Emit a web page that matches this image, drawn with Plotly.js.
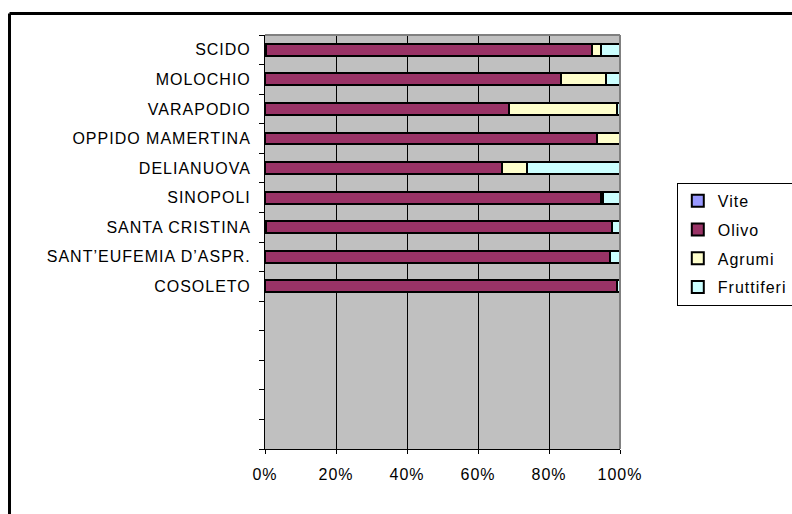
<!DOCTYPE html>
<html>
<head>
<meta charset="utf-8">
<script src="https://cdn.plot.ly/plotly-3.0.1.min.js"></script>
<style>
  html, body { margin: 0; padding: 0; background: #ffffff; }
  svg text { letter-spacing: 1px; }
</style>
</head>
<body>
<div id="chart" style="width:792px;height:514px;"></div>
<script>
// Categories, top to bottom
const categories = ['SCIDO', 'MOLOCHIO', 'VARAPODIO', 'OPPIDO MAMERTINA', 'DELIANUOVA',
                    'SINOPOLI', 'SANTA CRISTINA', 'SANT\u2019EUFEMIA D\u2019ASPR.', 'COSOLETO'];
const emptySlots = 5; // empty category rows below COSOLETO
// Series values (% share of each crop)
const vite       = [0.4, 0,    0,    0,    0,    0,    0.3,  0,    0];
const olivo      = [91.8, 83.3, 68.6, 93.5, 66.7, 94.6, 97.5, 97.3, 99.2];
const agrumi     = [2.4, 12.7, 30.6, 6.5,  7.0,  0.6,  0,    0,    0];
const fruttiferi = [5.4, 4.0,  0.8,  0,    26.3, 4.8,  2.2,  2.7,  0.8];
const seriesNames = ['Vite', 'Olivo', 'Agrumi', 'Fruttiferi'];
const xTickVals = [0, 20, 40, 60, 80, 100];
const xTickText = ['0%', '20%', '40%', '60%', '80%', '100%'];

const colors = ['#9999FF', '#993366', '#FFFFCC', '#CCFFFF'];
const nTot = categories.length + emptySlots;
const pos = categories.map((c, i) => nTot - 1 - i);
const seriesVals = [vite, olivo, agrumi, fruttiferi];

const font = 'Arial, "Liberation Sans", sans-serif';

const traces = seriesNames.map((name, k) => ({
  type: 'bar',
  orientation: 'h',
  name: name,
  legendgroup: name,
  x: seriesVals[k],
  y: pos,
  width: 0.4,
  marker: { color: colors[k], line: { color: '#000000', width: 2 } },
  hoverinfo: 'skip'
}));

const layout = {
  width: 792,
  height: 514,
  margin: { l: 265, r: 172, t: 35, b: 65, autoexpand: false },
  paper_bgcolor: '#ffffff',
  plot_bgcolor: '#C0C0C0',
  barmode: 'stack',
  barnorm: 'percent',
  font: { family: font, size: 16, color: '#000000' },
  showlegend: true,
  legend: {
    x: 1.16, y: 0.643, xanchor: 'left', yanchor: 'top',
    bgcolor: '#ffffff', bordercolor: '#000000', borderwidth: 1,
    traceorder: 'grouped', tracegroupgap: 5,
    font: { family: font, size: 16, color: '#000000' }
  },
  xaxis: {
    range: [0, 100],
    tickmode: 'array', tickvals: xTickVals, ticktext: xTickText,
    ticks: 'outside', ticklen: 4, tickcolor: '#000000',
    ticklabelstandoff: 7,
    showgrid: true, gridcolor: '#000000', gridwidth: 1,
    zeroline: false,
    showline: true, linecolor: '#000000', linewidth: 1,
    tickfont: { family: font, size: 16, color: '#000000' },
    fixedrange: true
  },
  yaxis: {
    range: [-0.5, nTot - 0.5],
    tickmode: 'array', tickvals: pos, ticktext: categories,
    ticks: '', showgrid: false, zeroline: false,
    showline: true, linecolor: '#000000', linewidth: 1,
    ticklabelstandoff: 10,
    minor: { tick0: 0.5, dtick: 1, ticks: 'outside', ticklen: 5, tickcolor: '#000000', tickwidth: 1, showgrid: false },
    tickfont: { family: font, size: 16, color: '#000000' },
    fixedrange: true
  },
  shapes: [
    // plot-area border (top and right, grey)
    { type: 'line', xref: 'paper', yref: 'paper', x0: 0, x1: 1, y0: 1, y1: 1, line: { color: '#808080', width: 2 } },
    { type: 'line', xref: 'paper', yref: 'paper', x0: 1, x1: 1, y0: 0, y1: 1, line: { color: '#808080', width: 2 } },
    // outer chart frame (left and top, cropped)
    { type: 'line', xref: 'paper', yref: 'paper', x0: -0.7197, x1: -0.7197, y0: -0.2, y1: 1.0519, line: { color: '#000000', width: 3 } },
    { type: 'line', xref: 'paper', yref: 'paper', x0: -0.7197, x1: 1.6, y0: 1.0519, y1: 1.0519, line: { color: '#000000', width: 3 } }
  ]
};

Plotly.newPlot('chart', traces, layout, { displayModeBar: false, staticPlot: true });
</script>
</body>
</html>
